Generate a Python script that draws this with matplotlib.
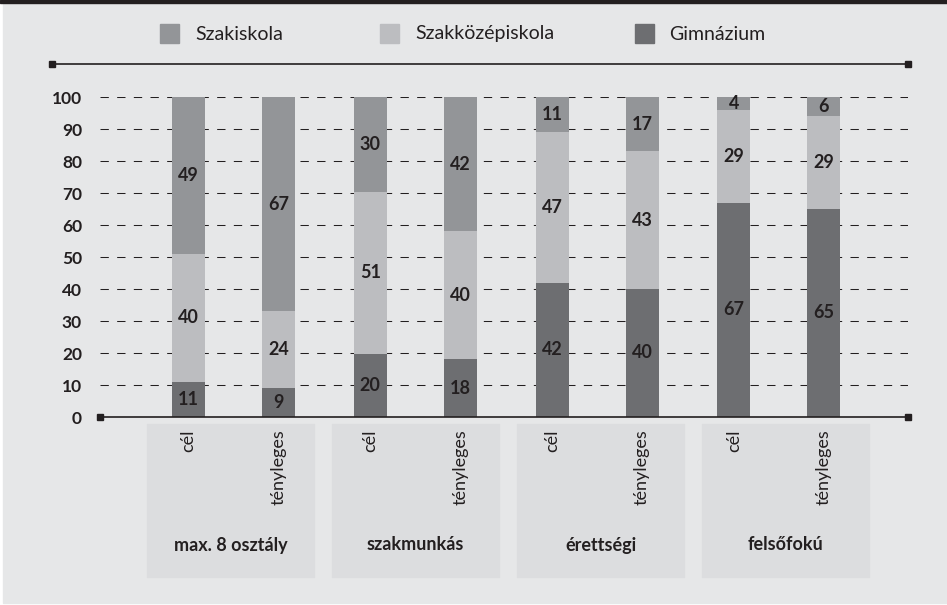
import matplotlib.pyplot as plt
from matplotlib.lines import Line2D
from matplotlib.patches import Rectangle

groups = ['max. 8 osztály', 'szakmunkás', 'érettségi', 'felsőfokú']
bar_labels = ['cél', 'tényleges']
series = ['Szakiskola', 'Szakközépiskola', 'Gimnázium']
gimnazium = [11, 9, 20, 18, 42, 40, 67, 65]
szakkozep = [40, 24, 51, 40, 47, 43, 29, 29]
szakiskola = [49, 67, 30, 42, 11, 17, 4, 6]

c_szakiskola = '#939598'
c_szakkozep = '#bcbdc0'
c_gimn = '#6d6e71'
txt = '#231f20'
bg = '#e6e7e8'
box = '#dcdddf'

plt.rcParams['font.family'] = ['Lato', 'DejaVu Sans']

W, H = 947, 605
fig = plt.figure(figsize=(W / 100, H / 100), dpi=100, facecolor='white')

def fx(px):
    return px / W

def fy(py):
    return (H - py) / H

# background panel and top band
fig.add_artist(Rectangle((fx(3), fy(603)), fx(944), 601 / H, transform=fig.transFigure,
                         color=bg, zorder=0))
fig.add_artist(Rectangle((0, fy(3)), 1, 3 / H, transform=fig.transFigure,
                         color=txt, zorder=0))

ax = fig.add_axes([fx(100), fy(417), fx(808), 320 / H])
ax.patch.set_alpha(0)

pos = []
for g in range(len(groups)):
    pos += [g * 2.02, g * 2.02 + 1]

totals = [a + b + c for a, b, c in zip(gimnazium, szakkozep, szakiskola)]
h_g = [v / t * 100 for v, t in zip(gimnazium, totals)]
h_k = [v / t * 100 for v, t in zip(szakkozep, totals)]
h_s = [v / t * 100 for v, t in zip(szakiskola, totals)]
b_k = h_g
b_s = [a + b for a, b in zip(h_g, h_k)]

bw = 0.367
ax.bar(pos, h_g, bw, color=c_gimn, zorder=3)
ax.bar(pos, h_k, bw, bottom=b_k, color=c_szakkozep, zorder=3)
ax.bar(pos, h_s, bw, bottom=b_s, color=c_szakiskola, zorder=3)

for i, x in enumerate(pos):
    for val, h, b in [(gimnazium[i], h_g[i], 0), (szakkozep[i], h_k[i], b_k[i]),
                      (szakiskola[i], h_s[i], b_s[i])]:
        ax.text(x, b + h / 2, str(val), ha='center', va='center', fontsize=13,
                fontweight='bold', color=txt, zorder=4)

ax.set_xlim(-0.983, 7.995)
ax.set_ylim(0, 100)
ax.set_xticks([])
ax.set_yticks(range(0, 101, 10))
ax.tick_params(axis='y', length=0, pad=13, labelsize=12.5, labelcolor=txt)
for lab in ax.get_yticklabels():
    lab.set_fontweight('bold')
for s in ax.spines.values():
    s.set_visible(False)
ax.set_axisbelow(True)
ax.grid(axis='y', color=txt, linewidth=0.75, linestyle=(0, (8, 8)), zorder=1)

# axis line and top rule
fig.add_artist(Line2D([fx(100), fx(908)], [fy(417), fy(417)], color=txt, lw=1.2,
                      marker='s', markersize=4.5, transform=fig.transFigure, zorder=5))
fig.add_artist(Line2D([fx(52), fx(908)], [fy(64), fy(64)], color=txt, lw=1.2,
                      marker='s', markersize=4.5, transform=fig.transFigure, zorder=5))

# category boxes and labels
for g, name in enumerate(groups):
    x0 = 147 + g * 185
    fig.add_artist(Rectangle((fx(x0), fy(577)), fx(167), 153 / H,
                             transform=fig.transFigure, color=box, zorder=1))
    fig.text(fx(x0 + 83.5), fy(545), name, ha='center', va='center',
             fontsize=13, fontweight='bold', color=txt)
    for k in range(2):
        xd = ax.transData.transform((pos[2 * g + k], 0))[0]
        fig.text(xd / W, fy(429), bar_labels[k], rotation=90,
                 ha='center', va='top', fontsize=13, color=txt)

# legend
leg = [(c_szakiskola, series[0], 160, 195), (c_szakkozep, series[1], 380, 415),
       (c_gimn, series[2], 635, 669)]
for col, name, mx, tx in leg:
    fig.add_artist(Rectangle((fx(mx), fy(43)), fx(19), 19 / H, transform=fig.transFigure,
                             color=col, zorder=2))
    fig.text(fx(tx), fy(34), name, ha='left', va='center', fontsize=14, color=txt)

fig.savefig('out.png', dpi=100, facecolor='white')
